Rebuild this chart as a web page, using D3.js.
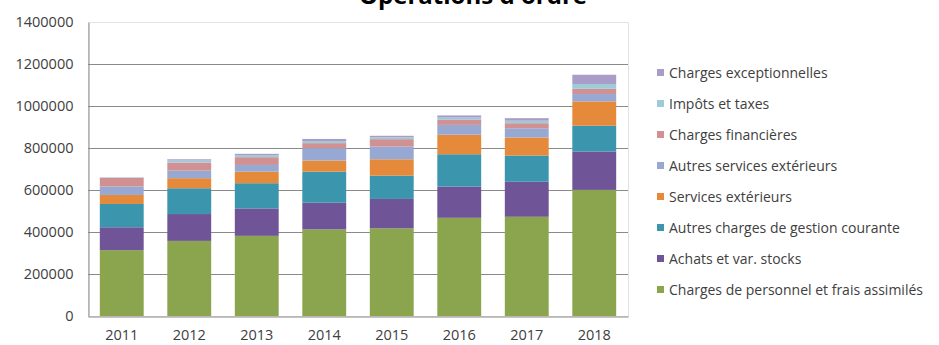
<!DOCTYPE html>
<html lang="fr">
<head>
<meta charset="utf-8">
<script src="https://cdn.jsdelivr.net/npm/d3@7"></script>
<style>
  html, body { margin: 0; padding: 0; background: #fff; }
  svg { display: block; }
  text { font-family: "Open Sans", "Liberation Sans", sans-serif; }
</style>
</head>
<body>
<svg id="chart" width="939" height="345"></svg>
<script>
// Années
const years = ["2011", "2012", "2013", "2014", "2015", "2016", "2017", "2018"];

// Montants par poste (en euros), empilés du bas vers le haut
const chargesPersonnel   = [314000, 358000, 382000, 413000, 418000, 468000, 473000, 601000];
const achatsStocks       = [109000, 128000, 131000, 127000, 140000, 149000, 167000, 183000];
const autresChargesGest  = [111000, 123000, 120000, 148000, 111000, 154000, 125000, 123000];
const servicesExterieurs = [ 43000,  48000,  55000,  53000,  78000,  93000,  86000, 116000];
const autresServicesExt  = [ 40000,  36000,  32000,  59000,  61000,  47000,  44000,  35000];
const chargesFinancieres = [ 41000,  38000,  37000,  24000,  35000,  24000,  24000,  25000];
const impotsTaxes        = [  2000,  10000,  10000,  10000,   9000,  11000,  12000,  23000];
const chargesExcept      = [  1000,   6000,   6000,  10000,   7000,  10000,  12000,  44000];

// Graduations de l'axe vertical
const yTicks = [0, 200000, 400000, 600000, 800000, 1000000, 1200000, 1400000];

const seriesNames = [
  "Charges de personnel et frais assimilés",
  "Achats et var. stocks",
  "Autres charges de gestion courante",
  "Services extérieurs",
  "Autres services extérieurs",
  "Charges financières",
  "Impôts et taxes",
  "Charges exceptionnelles"
];
const seriesValues = [
  chargesPersonnel, achatsStocks, autresChargesGest, servicesExterieurs,
  autresServicesExt, chargesFinancieres, impotsTaxes, chargesExcept
];
const seriesColors = [
  "#8aa54e", "#6f5597", "#3b95ad", "#e58a3b",
  "#97a9d3", "#d19193", "#9ecbd8", "#a99cc8"
];

const rows = years.map((y, i) => {
  const r = { year: y };
  seriesNames.forEach((n, k) => { r[n] = seriesValues[k][i]; });
  return r;
});

const svg = d3.select("#chart");
const plot = { left: 88, right: 628, top: 22.3, bottom: 316 };

const x = d3.scaleBand()
  .domain(years)
  .range([plot.left, plot.right])
  .paddingInner(0.35)
  .paddingOuter(0.175);

const y = d3.scaleLinear()
  .domain([0, 1400000])
  .range([plot.bottom, plot.top]);

// Cadre de la zone de tracé (haut et droite pâles)
svg.append("rect")
  .attr("x", plot.left + 0.5).attr("y", Math.round(y(1400000)) + 0.5)
  .attr("width", plot.right - plot.left)
  .attr("height", Math.round(y(0)) - Math.round(y(1400000)))
  .attr("fill", "none").attr("stroke", "#e4e2da").attr("stroke-width", 1);

// Quadrillage horizontal
svg.append("g")
  .selectAll("line")
  .data(yTicks.filter(t => t > 0 && t < 1400000))
  .join("line")
  .attr("x1", plot.left).attr("x2", plot.right)
  .attr("y1", d => Math.round(y(d)) + 0.5)
  .attr("y2", d => Math.round(y(d)) + 0.5)
  .attr("stroke", "#8a8a8a").attr("stroke-width", 1);

// Barres empilées
const stacked = d3.stack().keys(seriesNames)(rows);
svg.append("g")
  .selectAll("g")
  .data(stacked)
  .join("g")
  .attr("fill", (d, i) => seriesColors[i])
  .selectAll("rect")
  .data(d => d)
  .join("rect")
  .attr("x", d => x(d.data.year))
  .attr("width", x.bandwidth())
  .attr("y", d => y(d[1]))
  .attr("height", d => y(d[0]) - y(d[1]));

// Axe vertical
const yAxis = svg.append("g")
  .attr("transform", `translate(${plot.left + 0.5},0)`)
  .call(d3.axisLeft(y).tickValues(yTicks).tickFormat(d3.format("d")).tickSize(0).tickPadding(15));
yAxis.select(".domain").attr("stroke", "#8a8a8a");
yAxis.selectAll("text")
  .attr("fill", "#404040")
  .style("font-size", "14.5px");

// Axe horizontal
const xAxis = svg.append("g")
  .attr("transform", `translate(0,${Math.round(y(0)) + 0.5})`)
  .call(d3.axisBottom(x).tickSize(0).tickPadding(13));
xAxis.select(".domain").attr("stroke", "#8a8a8a");
xAxis.selectAll("text")
  .attr("fill", "#404040")
  .style("font-size", "14.5px");

// Titre (en partie hors du cadre)
svg.append("text")
  .attr("x", 473).attr("y", 4)
  .attr("text-anchor", "middle")
  .attr("fill", "#000")
  .style("font-size", "24px")
  .style("font-weight", "bold")
  .text("Opérations d'ordre");

// Légende, dans l'ordre inverse de l'empilement
const legendItems = seriesNames.map((n, i) => ({ name: n, color: seriesColors[i] })).reverse();
const legend = svg.append("g");
const lg = legend.selectAll("g")
  .data(legendItems)
  .join("g")
  .attr("transform", (d, i) => `translate(657,${73 + i * 31})`);
lg.append("rect")
  .attr("x", 0).attr("y", -4).attr("width", 7).attr("height", 7)
  .attr("fill", d => d.color);
lg.append("text")
  .attr("x", 12).attr("y", 0)
  .attr("dy", "0.35em")
  .attr("fill", "#404040")
  .style("font-size", "14px")
  .text(d => d.name);
</script>
</body>
</html>
